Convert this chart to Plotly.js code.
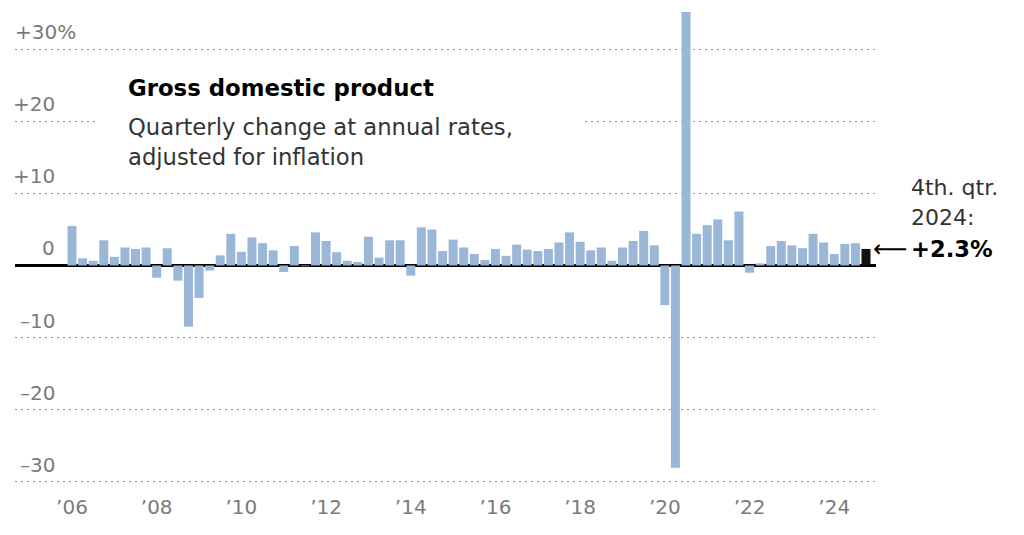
<!DOCTYPE html>
<html>
<head>
<meta charset="utf-8">
<script src="https://cdn.plot.ly/plotly-3.0.1.min.js"></script>
<style>
  html, body { margin: 0; padding: 0; background: #fff; }
  #chart { width: 1024px; height: 535px; }
</style>
</head>
<body>
<div id="chart"></div>
<script>
// ---- Data ----
const years = [2006, 2007, 2008, 2009, 2010, 2011, 2012, 2013, 2014, 2015,
               2016, 2017, 2018, 2019, 2020, 2021, 2022, 2023, 2024];
const quarterNames = ["Q1", "Q2", "Q3", "Q4"];
// Quarterly change in real GDP at annual rates, %, in order 2006 Q1 ... 2024 Q4
const gdpChange = [
  5.5, 1.0, 0.65, 3.5,     // 2006
  1.2, 2.5, 2.3, 2.5,      // 2007
  -1.7, 2.4, -2.1, -8.5,   // 2008
  -4.5, -0.7, 1.4, 4.4,    // 2009
  1.9, 3.9, 3.1, 2.1,      // 2010
  -0.9, 2.7, -0.1, 4.6,    // 2011
  3.4, 1.85, 0.65, 0.5,    // 2012
  4.0, 1.1, 3.5, 3.5,      // 2013
  -1.4, 5.3, 5.0, 2.0,     // 2014
  3.6, 2.5, 1.6, 0.75,     // 2015
  2.3, 1.35, 2.9, 2.2,     // 2016
  2.0, 2.3, 3.2, 4.6,      // 2017
  3.3, 2.1, 2.5, 0.65,     // 2018
  2.5, 3.4, 4.8, 2.8,      // 2019
  -5.5, -28.1, 35.2, 4.4,  // 2020
  5.6, 6.4, 3.5, 7.5,      // 2021
  -1.0, 0.3, 2.7, 3.4,     // 2022
  2.8, 2.4, 4.4, 3.2,      // 2023
  1.6, 3.0, 3.1, 2.3       // 2024
];
const tickYears = [2006, 2008, 2010, 2012, 2014, 2016, 2018, 2020, 2022, 2024];
const tickLabels = ["’06", "’08", "’10", "’12", "’14", "’16", "’18", "’20", "’22", "’24"];
const yTickValues = [30, 20, 10, 0, -10, -20, -30];
const yTickLabels = ["+30%", "+20", "+10", "0", "–10", "–20", "–30"];
const latestLabel = ["4th. qtr.", "2024:", "+2.3%"];

// ---- Build categories ----
const categories = [];
years.forEach(y => quarterNames.forEach(q => categories.push(y + " " + q)));
const barColors = categories.map((c, i) => i === categories.length - 1 ? "#111111" : "#9bb7d7");

const FONT = "'DejaVu Sans', sans-serif";
const latestValue = gdpChange[gdpChange.length - 1];

const trace = {
  type: "bar",
  x: categories,
  y: gdpChange,
  marker: { color: barColors, line: { width: 0 } },
  hoverinfo: "x+y"
};

// y tick labels as annotations sitting above the gridlines
const annotations = yTickValues.map((v, i) => {
  const isTop = i === 0;
  return {
    xref: "paper", yref: "y",
    x: 0, y: v,
    xanchor: isTop ? "left" : "right",
    xshift: isTop ? -2 : 42,
    yanchor: "bottom", yshift: 3,
    text: yTickLabels[i],
    showarrow: false,
    font: { family: FONT, size: 20, color: "#7a7a7a" }
  };
});

// Title block
annotations.push({
  xref: "paper", yref: "paper", x: 0.1312, y: 0.8337,
  xanchor: "left", yanchor: "middle", xshift: -2,
  text: "<b>Gross domestic product</b>", showarrow: false,
  font: { family: FONT, size: 22.8, color: "#000" }
});
annotations.push({
  xref: "paper", yref: "paper", x: 0.1312, y: 0.7526,
  xanchor: "left", yanchor: "middle", xshift: -2,
  text: "Quarterly change at annual rates,", showarrow: false,
  font: { family: FONT, size: 22.7, color: "#333" }
});
annotations.push({
  xref: "paper", yref: "paper", x: 0.1312, y: 0.6902,
  xanchor: "left", yanchor: "middle", xshift: -2,
  text: "adjusted for inflation", showarrow: false,
  font: { family: FONT, size: 22.7, color: "#333" }
});

// Latest value label on the right
annotations.push({
  xref: "paper", yref: "y", x: 1.0407, y: latestValue + 8.6,
  xanchor: "left", yanchor: "middle", xshift: -2,
  text: latestLabel[0], showarrow: false,
  font: { family: FONT, size: 22, color: "#333" }
});
annotations.push({
  xref: "paper", yref: "y", x: 1.0407, y: latestValue + 4.3,
  xanchor: "left", yanchor: "middle", xshift: -2,
  text: latestLabel[1], showarrow: false,
  font: { family: FONT, size: 22, color: "#333" }
});
annotations.push({
  xref: "paper", yref: "y", x: 1.0407, y: latestValue,
  xanchor: "left", yanchor: "middle", xshift: -2,
  text: "<b>" + latestLabel[2] + "</b>", showarrow: false,
  font: { family: FONT, size: 22.6, color: "#000" }
});
annotations.push({
  xref: "paper", yref: "y", x: 0.9965, y: latestValue,
  xanchor: "left", yanchor: "middle", xshift: -2,
  text: "⟵", showarrow: false,
  font: { family: FONT, size: 24, color: "#000" }
});

const layout = {
  width: 1024, height: 535,
  margin: { l: 15, r: 148, t: 8, b: 46, pad: 0 },
  paper_bgcolor: "#fff", plot_bgcolor: "#fff",
  showlegend: false,
  bargap: 0.15,
  xaxis: {
    type: "category",
    categoryorder: "array", categoryarray: categories,
    range: [-5.384, 75.945],
    tickmode: "array",
    tickvals: tickYears.map(y => y + " Q1"),
    ticktext: tickLabels,
    ticks: "", showgrid: false, zeroline: false, showline: false,
    tickfont: { family: FONT, size: 20, color: "#7a7a7a" },
    ticklabelstandoff: 4,
    fixedrange: true
  },
  yaxis: {
    range: [-31.04, 35.76],
    tickmode: "array", tickvals: yTickValues,
    showticklabels: false, ticks: "",
    showgrid: true, gridcolor: "#8f8f8f", gridwidth: 1.9, griddash: "1.9px,4.1px",
    zeroline: true, zerolinecolor: "#000", zerolinewidth: 2.8,
    showline: false, fixedrange: true
  },
  shapes: [{
    type: "rect", layer: "above",
    xref: "paper", yref: "y",
    x0: 0.0929, x1: 0.6597, y0: 19.2, y1: 20.8,
    fillcolor: "#fff", line: { width: 0 }
  }],
  annotations: annotations
};

Plotly.newPlot("chart", [trace], layout, { displayModeBar: false, staticPlot: true });
</script>
</body>
</html>
